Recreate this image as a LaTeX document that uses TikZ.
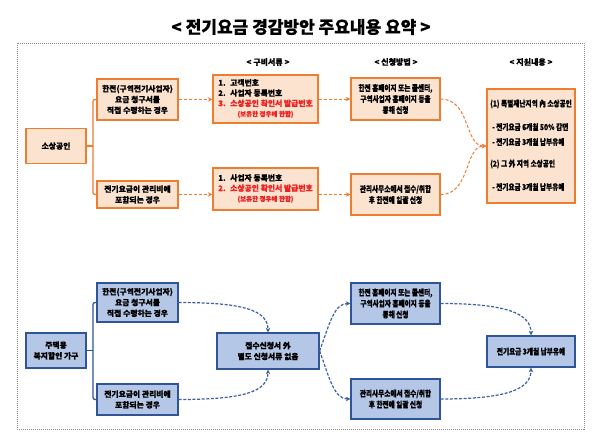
\documentclass[tikz,border=0pt]{standalone}
\usepackage{fontspec}
\setmainfont{Noto Sans CJK KR}[BoldFeatures={FakeBold=0.6}]
\newfontfamily\condfont{Noto Sans CJK KR}[FakeStretch=0.8, BoldFeatures={FakeBold=0.6}]
\usetikzlibrary{arrows.meta}
\definecolor{ocol}{HTML}{ED7D31}
\definecolor{ofill}{HTML}{FBE3D0}
\definecolor{bcol}{HTML}{2F5597}
\definecolor{bfill}{HTML}{B4C7E7}
\definecolor{barr}{HTML}{3C5FA6}
\definecolor{rcol}{HTML}{F02020}
\definecolor{frcol}{HTML}{8C8C8C}
\begin{document}
\begin{tikzpicture}[x=1pt,y=-1pt,
  box/.style={draw, line width=1.3pt, inner sep=0pt, align=center,
    font=\fontsize{7.8}{10.8}\selectfont\bfseries},
  cbox/.style={box, font=\fontsize{8.3}{11}\selectfont\bfseries\condfont},
  obox/.style={draw=ocol, fill=ofill},
  bbox/.style={draw=bcol, fill=bfill},
  sz/.style 2 args={minimum width=#1pt, minimum height=#2pt},
  oarr/.style={draw=ocol, line width=1pt, dash pattern=on 3pt off 2pt,
    -{Stealth[length=4.5pt,width=4.5pt]}},
  barrow/.style={draw=barr, line width=1.2pt, dash pattern=on 3pt off 1.6pt,
    -{Stealth[length=4.5pt,width=4.5pt]}},
  obr/.style={draw=ocol, line width=1.3pt, rounded corners=2pt},
  bbr/.style={draw=bcol, line width=1.3pt, rounded corners=2pt},
  hdr/.style={inner sep=0pt, font=\fontsize{8}{10}\selectfont\bfseries},
  dtxt/.style={inner sep=0pt, anchor=west, font=\fontsize{8.3}{10}\selectfont\bfseries\condfont},
]
\useasboundingbox (0,0) rectangle (600,439);
\fill[white] (0,0) rectangle (600,439);

% title and frame
\node[inner sep=0pt, font=\fontsize{17}{20}\selectfont\bfseries] (title) at (301,27) {< 전기요금 경감방안 주요내용 요약 >};
\draw[frcol, line width=0.6pt, dash pattern=on 1pt off 1pt] (17,43) rectangle (584,429);

% headers
\node[hdr] (h1) at (268,62) {<\ 구비서류\ >};
\node[hdr] (h2) at (396,62) {<\ 신청방법\ >};
\node[hdr] (h3) at (531,62) {<\ 지원내용\ >};

% ---- top (orange) ----
\node[box, obox, sz={60}{35}] (S) at (56,146) {소상공인};
\node[box, obox, sz={81}{41}] (A1) at (137.5,99.5) {한전(구역전기사업자)\\요금 청구서를\\직접 수령하는 경우};
\node[box, obox, sz={81}{27}] (A2) at (137.5,194.5) {전기요금이 관리비에\\포함되는 경우};
\node[box, obox, sz={105}{48}] (B1) at (265.5,99) {\renewcommand{\arraystretch}{0.95}\begin{tabular}{@{}l@{}}
\makebox[12pt][l]{1.}고객번호\\
\makebox[12pt][l]{2.}사업자 등록번호\\
\textcolor{rcol}{\makebox[12pt][l]{3.}소상공인 확인서 발급번호}\\
\multicolumn{1}{@{}c@{}}{\textcolor{rcol}{\fontsize{6.5}{8}\selectfont(보유한 경우에 한함)}}
\end{tabular}};
\node[box, obox, sz={105}{42}] (B2) at (265.5,189) {\renewcommand{\arraystretch}{0.95}\begin{tabular}{@{}l@{}}
\makebox[12pt][l]{1.}사업자 등록번호\\
\textcolor{rcol}{\makebox[12pt][l]{2.}소상공인 확인서 발급번호}\\
\multicolumn{1}{@{}c@{}}{\textcolor{rcol}{\fontsize{6.5}{8}\selectfont(보유한 경우에 한함)}}
\end{tabular}};
\node[cbox, obox, sz={89}{42}] (C1) at (395.5,99) {한전 홈페이지 또는 콜센터,\\구역사업자 홈페이지 등을\\통해 신청};
\node[cbox, obox, sz={89}{41}] (C2) at (395.5,194.5) {관리사무소에서 접수/취합\\후 한전에 일괄 신청};
\node[box, obox, sz={88}{114}] (D) at (531,146) {};
\node[dtxt] (d1) at (490,104) {(1) 특별재난지역 內 소상공인};
\node[dtxt] (d2) at (492,127) {- 전기요금 6개월 50\% 감면};
\node[dtxt] (d3) at (492,142) {- 전기요금 3개월 납부유예};
\node[dtxt] (d4) at (490,164) {(2) 그 外 지역 소상공인};
\node[dtxt] (d5) at (492,187) {- 전기요금 3개월 납부유예};

\coordinate (j1) at (93,146);
\draw[obr] (S.east) -- (j1);
\draw[obr] (A1.west) -| (j1) |- (A2.west);
\draw[oarr] (A1.east) -- (A1.east -| B1.west);
\draw[oarr] (A2.east) -- (A2.east -| B2.west);
\draw[oarr] (B1.east |- C1.west) -- (C1.west);
\draw[oarr] (B2.east |- C2.west) -- (C2.west);
\draw[oarr] (C1.east) .. controls +(30,0) and +(-22,0) .. (D.west);
\draw[oarr] (C2.east) .. controls +(30,0) and +(-22,0) .. (D.west);

% ---- bottom (blue) ----
\node[box, bbox, sz={60}{35}] (P) at (56,350.5) {주택용\\복지할인 가구};
\node[box, bbox, sz={81}{39}] (E1) at (137.5,302.5) {한전(구역전기사업자)\\요금 청구서를\\직접 수령하는 경우};
\node[box, bbox, sz={81}{31}] (E2) at (137.5,399.5) {전기요금이 관리비에\\포함되는 경우};
\node[box, bbox, sz={102}{36}] (F) at (268,351) {접수신청서 外\\별도 신청서류 없음};
\node[cbox, bbox, sz={89}{41}] (G1) at (395.5,303.5) {한전 홈페이지 또는 콜센터,\\구역사업자 홈페이지 등을\\통해 신청};
\node[cbox, bbox, sz={89}{40}] (G2) at (395.5,399) {관리사무소에서 접수/취합\\후 한전에 일괄 신청};
\node[cbox, bbox, sz={88}{31}] (H) at (531,351.5) {전기요금 3개월 납부유예};

\coordinate (j2) at (93,350.5);
\draw[bbr] (P.east) -- (j2);
\draw[bbr] (E1.west) -| (j2) |- (E2.west);
\draw[barrow] (E1.east) .. controls +(65,0) and +(0,-22) .. (F.north);
\draw[barrow] (E2.east) .. controls +(65,0) and +(0,22) .. (F.south);
\draw[barrow] (F.east) .. controls +(10,-28) and +(-16,0) .. (G1.west);
\draw[barrow] (F.east) .. controls +(10,28) and +(-16,0) .. (G2.west);
\draw[barrow] (G1.east) .. controls +(65,0) and +(0,-22) .. (H.north);
\draw[barrow] (G2.east) .. controls +(65,0) and +(0,22) .. (H.south);
\end{tikzpicture}
\end{document}
